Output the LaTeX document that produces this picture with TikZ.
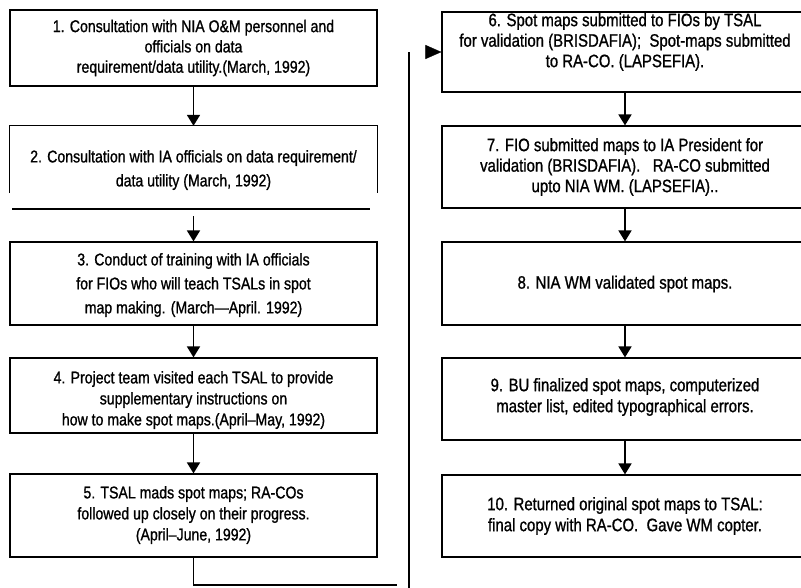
\documentclass[tikz,border=0pt]{standalone}
\usepackage{fontspec}
\setmainfont{Liberation Sans}[FakeStretch=0.83,FakeBold=1]
\usetikzlibrary{arrows.meta,fit}
\begin{document}
\begin{tikzpicture}[x=1pt,y=-1pt,
  box/.style={draw,line width=1.2pt,inner sep=0pt},
  frame/.style={inner sep=0pt},
  txt/.style={align=center,font=\fontsize{17}{21}\selectfont,inner sep=0pt},
  rtxt/.style={align=center,font=\fontsize{18}{21}\selectfont,inner sep=0pt},
  tight/.style={font=\fontsize{17}{20.3}\selectfont},
  rtight/.style={font=\fontsize{18}{20.5}\selectfont},
  loose/.style={font=\fontsize{17}{24}\selectfont},
  conn/.style={line width=1.8pt},
  arr/.style={line width=1.8pt,-{Triangle[length=11pt,width=13pt]}}]
\clip (0,0) rectangle (801,587);
\fill[white] (0,0) rectangle (801,587);
% left column boxes
\node[box,fit={(10,10) (377,86)}] (b1) {};
\node[frame,fit={(10,126) (377,193)}] (b2) {};
\draw[line width=1.2pt] (b2.south west) -- (b2.north west) -- (b2.north east) -- (b2.south east);
\coordinate (l2a) at (12,209);
\coordinate (l2b) at (370,209);
\draw[conn] (l2a) -- (l2b);
\coordinate (a3) at (193.5,216);
\node[box,fit={(10,242) (377,325)}] (b3) {};
\node[box,fit={(10,358) (377,433)}] (b4) {};
\node[box,fit={(10,474) (377,557)}] (b5) {};
% right column boxes
\node[box,fit={(442,12) (812,92)}] (b6) {};
\node[box,fit={(442,126) (812,208)}] (b7) {};
\node[box,fit={(442,242) (812,325)}] (b8) {};
\node[box,fit={(442,358) (812,440)}] (b9) {};
\node[box,fit={(442,475) (812,557)}] (b10) {};
% texts
\node[txt,tight] (t1) at (193.5,48) {1. Consultation with NIA O\&M personnel and\\officials on data\\requirement/data utility.(March, 1992)};
\node[txt,loose] (t2) at (193.5,170) {2. Consultation with IA officials on data requirement/\\data utility (March, 1992)};
\node[txt,loose] (t3) at (193.5,285) {3. Conduct of training with IA officials\\for FIOs who will teach TSALs in spot\\map making. (March—April. 1992)};
\node[txt] (t4) at (193.5,400) {4. Project team visited each TSAL to provide\\supplementary instructions on\\how to make spot maps.(April–May, 1992)};
\node[txt] (t5) at (193.5,515) {5. TSAL mads spot maps; RA-COs\\followed up closely on their progress.\\(April–June, 1992)};
\node[rtxt,rtight] (t6) at (625,42) {6. Spot maps submitted to FIOs by TSAL\\for validation (BRISDAFIA);\ \ Spot-maps submitted\\to RA-CO. (LAPSEFIA).};
\node[rtxt,rtight] (t7) at (625,167) {7. FIO submitted maps to IA President for\\validation (BRISDAFIA).\ \ \ RA-CO submitted\\upto NIA WM. (LAPSEFIA)..};
\node[rtxt] (t8) at (625,284) {8. NIA WM validated spot maps.};
\node[rtxt] (t9) at (625,397) {9. BU finalized spot maps, computerized\\master list, edited typographical errors.};
\node[rtxt] (t10) at (625,516) {10. Returned original spot maps to TSAL:\\final copy with RA-CO.\ \ Gave WM copter.};
% connectors left
\draw[arr] (b1.south) -- (b2.north);
\draw[arr] (a3) -- (b3.north);
\draw[arr] (b3.south) -- (b4.north);
\draw[arr] (b4.south) -- (b5.north);
% connectors right
\draw[arr] (b6.south -| t6) -- (b7.north -| t6);
\draw[arr] (b7.south -| t7) -- (b8.north -| t7);
\draw[arr] (b8.south -| t8) -- (b9.north -| t8);
\draw[arr] (b9.south -| t9) -- (b10.north -| t9);
% return loop
\coordinate (k1) at (193.5,585);
\coordinate (k2) at (397,585);
\coordinate (v1) at (409,52);
\coordinate (v2) at (409,590);
\coordinate (h1) at (427,52);
\draw[conn] (b5.south) -- (k1) -- (k2);
\draw[line width=2.2pt] (v1) -- (v2);
\draw[-{Triangle[length=16pt,width=14pt]}] (h1) -- (b6.west);
\end{tikzpicture}
\end{document}
